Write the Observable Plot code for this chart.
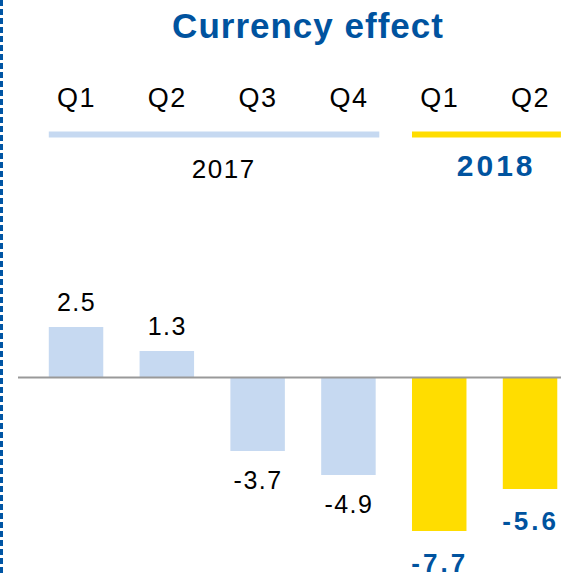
<!DOCTYPE html>
<html>
<head>
<meta charset="utf-8">
<script src="https://cdn.jsdelivr.net/npm/d3@7"></script>
<script src="https://cdn.jsdelivr.net/npm/@observablehq/plot@0.6"></script>
<style>
  html, body { margin: 0; padding: 0; background: #fff; }
  #wrap { position: relative; width: 561px; height: 575px; overflow: hidden; background: #fff; }
  #dash { position: absolute; left: 0; top: 0; width: 3px; height: 575px; z-index: 2;
          background: repeating-linear-gradient(to bottom, #0055A4 0 6px, transparent 6px 9px); }
  #title { box-sizing: border-box; height: 50px; padding-top: 6px; line-height: 44px; padding-left: 55px; text-align: center;
           font: bold 35px "Liberation Sans", Arial, sans-serif; color: #00539F; letter-spacing: 1px; }
  #chart svg text { letter-spacing: 1.5px; }
  #chart svg g[font-weight="bold"] text { letter-spacing: 3px; }
</style>
</head>
<body>
<div id="wrap">
  <div id="dash"></div>
  <div id="title">Currency effect</div>
  <div id="chart"></div>
</div>
<script>
// ---- data ----
const quarters = ["Q1", "Q2", "Q3", "Q4", "Q1", "Q2"];
const years = ["2017", "2017", "2017", "2017", "2018", "2018"];
const values = [2.5, 1.3, -3.7, -4.9, -7.7, -5.6];

// ---- styles per year ----
const yearStyle = {
  "2017": {bar: "#C6D9F1", text: "#000000", weight: "normal", valueSize: 25, yearSize: 26, negDy: 20, yearDy: -40},
  "2018": {bar: "#FFDD00", text: "#00539F", weight: "bold",   valueSize: 26, yearSize: 30, negDy: 22, yearDy: -42}
};

const data = values.map((v, i) => ({i, q: quarters[i], year: years[i], value: v, label: v.toFixed(1)}));
const groups = Array.from(d3.group(data, d => d.year), ([year, ds]) => ({
  year, first: d3.min(ds, d => d.i), last: d3.max(ds, d => d.i)
}));

const yDomain = [-9, 8];
const half = 0.3;

const marks = [
  Plot.rectY(data, {x1: d => d.i - half, x2: d => d.i + half, y: "value", fill: d => yearStyle[d.year].bar}),
  Plot.ruleY([0], {stroke: "#999999", strokeWidth: 2}),
  Plot.axisX({anchor: "top", ticks: data.map(d => d.i), tickFormat: i => quarters[i],
              tickSize: 0, tickPadding: 111, fontSize: 27, label: null, fill: "#000"})
];

for (const g of groups) {
  const s = yearStyle[g.year];
  // group line
  marks.push(Plot.ruleY([g], {y: () => yDomain[1], x1: d => d.first - half, x2: d => d.last + 0.34,
                               stroke: s.bar, strokeWidth: 6, dy: -83}));
  // year label
  marks.push(Plot.text([g], {x: d => (d.first + d.last) / 2, text: "year", frameAnchor: "top",
                             lineAnchor: "bottom", dy: s.yearDy, dx: 11, fill: s.text,
                             fontWeight: s.weight, fontSize: s.yearSize}));
  const ds = data.filter(d => d.year === g.year);
  // value labels
  marks.push(Plot.text(ds.filter(d => d.value >= 0), {x: "i", y: "value", text: "label",
                       lineAnchor: "bottom", dy: -17, fill: s.text, fontWeight: s.weight, fontSize: s.valueSize}));
  marks.push(Plot.text(ds.filter(d => d.value < 0), {x: "i", y: "value", text: "label",
                       lineAnchor: "top", dy: s.negDy, fill: s.text, fontWeight: s.weight, fontSize: s.valueSize}));
}

const chart = Plot.plot({
  width: 561,
  height: 525,
  marginLeft: 18,
  marginRight: 0,
  marginTop: 167,
  marginBottom: 18,
  style: {fontFamily: '"Liberation Sans", Arial, sans-serif', background: "transparent", overflow: "visible"},
  x: {type: "linear", domain: [-0.639, 5.341], axis: null},
  y: {domain: yDomain, axis: null},
  color: {type: "identity"},
  marks
});
document.getElementById("chart").appendChild(chart);
</script>
</body>
</html>
